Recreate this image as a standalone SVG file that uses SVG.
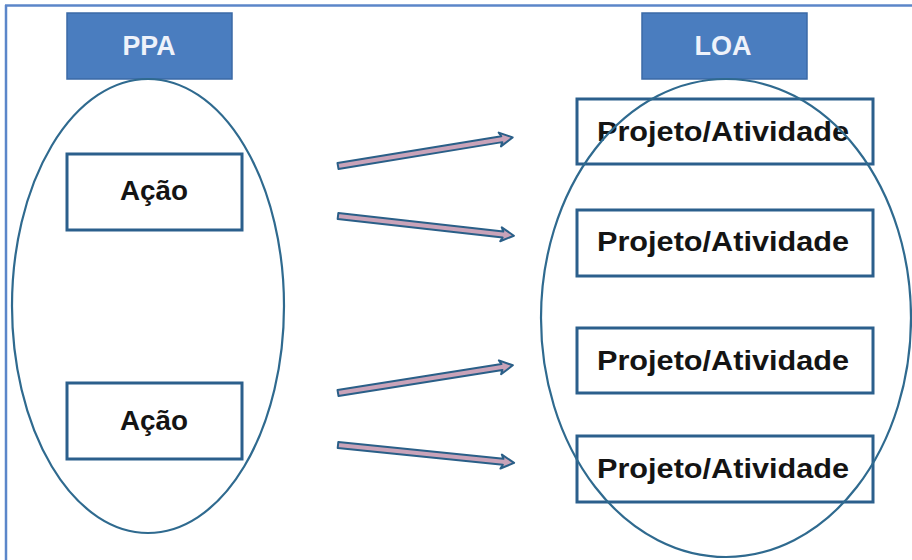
<svg xmlns="http://www.w3.org/2000/svg" width="912" height="560" viewBox="0 0 912 560">
<defs>
<style>
.hdr{fill:#4a7dbf;stroke:#3b6aa6;stroke-width:1.5}
.hdrt{font-family:"Liberation Sans",Arial,sans-serif;font-weight:bold;font-size:27px;fill:#eef2fa;text-anchor:middle}
.box{fill:#ffffff;stroke:#2b5f8c;stroke-width:3}
.txt{font-family:"Liberation Sans",Arial,sans-serif;font-weight:bold;font-size:27px;fill:#141414;text-anchor:middle}
.ell{fill:none;stroke:#2f6a8f;stroke-width:2.2}
.arr{fill:#c9a3b9;stroke:#2a5f88;stroke-width:2;stroke-linejoin:round}
</style>
<path id="arrow" d="M0,-3 L166,-3 L164,-7 L177,0 L164,7 L166,3 L0,3 Z"/>
</defs>
<rect width="912" height="560" fill="#ffffff"/>
<g id="frame" stroke="#5b86c9" stroke-width="2.5" fill="none">
<line x1="5" y1="5.5" x2="912" y2="5.5"/>
<line x1="6" y1="5" x2="6" y2="560"/>
</g>
<g id="ppa">
<rect class="hdr" x="67" y="13" width="165" height="66"/>
<text class="hdrt" x="149" y="55" textLength="53" lengthAdjust="spacingAndGlyphs">PPA</text>
</g>
<g id="loa">
<rect class="hdr" x="642" y="13" width="165" height="66"/>
<text class="hdrt" x="723" y="55" textLength="57" lengthAdjust="spacingAndGlyphs">LOA</text>
</g>
<g id="acao1">
<rect class="box" x="67" y="154" width="175" height="76"/>
<text class="txt" x="154" y="200" textLength="68" lengthAdjust="spacingAndGlyphs">Ação</text>
</g>
<g id="acao2">
<rect class="box" x="67" y="383" width="175" height="76"/>
<text class="txt" x="154" y="430" textLength="68" lengthAdjust="spacingAndGlyphs">Ação</text>
</g>
<g id="proj1">
<rect class="box" x="577" y="99" width="296" height="65"/>
<text class="txt" x="723" y="141" textLength="252" lengthAdjust="spacingAndGlyphs">Projeto/Atividade</text>
</g>
<g id="proj2">
<rect class="box" x="577" y="210" width="296" height="66"/>
<text class="txt" x="723" y="251" textLength="252" lengthAdjust="spacingAndGlyphs">Projeto/Atividade</text>
</g>
<g id="proj3">
<rect class="box" x="577" y="328" width="296" height="65"/>
<text class="txt" x="723" y="370" textLength="252" lengthAdjust="spacingAndGlyphs">Projeto/Atividade</text>
</g>
<g id="proj4">
<rect class="box" x="577" y="436" width="296" height="66"/>
<text class="txt" x="723" y="478" textLength="252" lengthAdjust="spacingAndGlyphs">Projeto/Atividade</text>
</g>
<g id="groups">
<ellipse id="ppa-ellipse" class="ell" cx="148" cy="306" rx="136" ry="227"/>
<ellipse id="loa-ellipse" class="ell" cx="726" cy="318" rx="185" ry="239"/>
</g>
<g id="connectors">
<use href="#arrow" class="arr" transform="translate(338,166) rotate(-9.3)"/>
<use href="#arrow" class="arr" transform="translate(338,216) rotate(6.4)"/>
<use href="#arrow" class="arr" transform="translate(338,393) rotate(-9.0)"/>
<use href="#arrow" class="arr" transform="translate(338,445) rotate(5.8)"/>
</g>
</svg>
